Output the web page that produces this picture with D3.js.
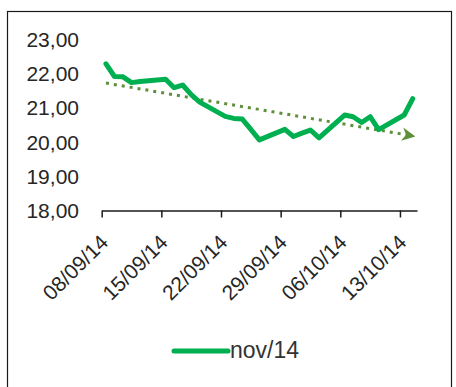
<!DOCTYPE html>
<html>
<head>
<meta charset="utf-8">
<script src="https://cdn.jsdelivr.net/npm/d3@7"></script>
<style>
body { margin: 0; background: #fff; }
svg { display: block; }
text { font-family: "Liberation Sans", Arial, sans-serif; }
</style>
</head>
<body>
<div id="chart-area"></div>
<script>
// dias úteis (sem fins de semana)
var dates = [
    "2014-09-08", "2014-09-09", "2014-09-10", "2014-09-11", "2014-09-12",
    "2014-09-15", "2014-09-16", "2014-09-17", "2014-09-18", "2014-09-19",
    "2014-09-22", "2014-09-23", "2014-09-24", "2014-09-25", "2014-09-26",
    "2014-09-29", "2014-09-30", "2014-10-01", "2014-10-02", "2014-10-03",
    "2014-10-06", "2014-10-07", "2014-10-08", "2014-10-09", "2014-10-10",
    "2014-10-13", "2014-10-14"
];
var values = [
    22.30, 21.93, 21.92, 21.75, 21.78,
    21.85, 21.60, 21.68, 21.40, 21.18,
    20.76, 20.70, 20.68, 20.38, 20.07,
    20.38, 20.17, 20.27, 20.36, 20.13,
    20.80, 20.75, 20.58, 20.75, 20.37,
    20.80, 21.28
];
var xTicks = ["2014-09-08", "2014-09-15", "2014-09-22", "2014-09-29", "2014-10-06", "2014-10-13"];
var yTicks = [18, 19, 20, 21, 22, 23];
var seriesName = "nov/14";

var parse = d3.utcParse("%Y-%m-%d");
var data = dates.map(function(d, i) {
    return { date: parse(d), value: values[i] };
});

var svg = d3.select("#chart-area").append("svg")
    .attr("width", 456)
    .attr("height", 387);

// moldura
svg.append("rect")
    .attr("x", 7.5).attr("y", 11.5)
    .attr("width", 444).attr("height", 390)
    .attr("fill", "none")
    .attr("stroke", "#1a1a1a")
    .attr("stroke-width", 1.2);

var x = d3.scaleUtc()
    .domain([parse("2014-09-08"), parse("2014-10-15")])
    .range([101.7, 417]);

var y = d3.scaleLinear()
    .domain([18, 23])
    .range([210.5, 40]);

var ptX = function(d) { return x(d3.utcHour.offset(d.date, 12)); };

var fmt = d3.formatLocale({ decimal: ",", thousands: ".", grouping: [3], currency: ["R$", ""] }).format(".2f");

// eixo y (só rótulos)
var yAxis = svg.append("g")
    .attr("transform", "translate(79,0)")
    .call(d3.axisLeft(y).tickValues(yTicks).tickSize(0).tickPadding(0).tickFormat(fmt));
yAxis.select(".domain").remove();
yAxis.selectAll("text")
    .attr("font-size", 21)
    .attr("font-family", "Liberation Sans, Arial, sans-serif")
    .attr("fill", "#262626");

// eixo x
var xAxis = svg.append("g")
    .attr("transform", "translate(0,210.5)")
    .call(d3.axisBottom(x)
        .tickValues(xTicks.map(parse))
        .tickSize(7)
        .tickSizeOuter(0)
        .tickFormat(d3.utcFormat("%d/%m/%y")));
xAxis.select(".domain").attr("stroke", "#1a1a1a").attr("stroke-width", 1.5);
xAxis.selectAll(".tick line").attr("stroke", "#1a1a1a").attr("stroke-width", 1.5);
xAxis.selectAll("text")
    .attr("y", 0)
    .attr("dy", "0.35em")
    .attr("text-anchor", "end")
    .attr("transform", "translate(2,28) rotate(-45)")
    .attr("font-size", 21)
    .attr("font-family", "Liberation Sans, Arial, sans-serif")
    .attr("fill", "#262626");

// linha de tendência (regressão linear)
var t0 = data[0].date;
var days = data.map(function(d) { return (d.date - t0) / 864e5; });
var mx = d3.mean(days), my = d3.mean(values);
var sxy = d3.sum(days, function(dx, i) { return (dx - mx) * (values[i] - my); });
var sxx = d3.sum(days, function(dx) { return (dx - mx) * (dx - mx); });
var slope = sxy / sxx;
var icpt = my - slope * mx;
var trend = [data[0], data[data.length - 1]].map(function(d) {
    var dx = (d.date - t0) / 864e5;
    return { date: d.date, value: icpt + slope * dx };
});

svg.append("defs").append("marker")
    .attr("id", "arrow")
    .attr("viewBox", "0 0 10 10")
    .attr("refX", 8).attr("refY", 5)
    .attr("markerWidth", 4.5).attr("markerHeight", 4.5)
    .attr("markerUnits", "strokeWidth")
    .attr("orient", "auto")
    .append("path")
    .attr("d", "M0,0 L10,5 L0,10 L3,5 Z")
    .attr("fill", "#5E8F3A");

var line = d3.line()
    .x(ptX)
    .y(function(d) { return y(d.value); });

svg.append("path")
    .datum(trend)
    .attr("d", line)
    .attr("fill", "none")
    .attr("stroke", "#5E8F3A")
    .attr("stroke-width", 3)
    .attr("stroke-dasharray", "3,5")
    .attr("marker-end", "url(#arrow)");

svg.append("path")
    .datum(data)
    .attr("d", line)
    .attr("fill", "none")
    .attr("stroke", "#00B050")
    .attr("stroke-width", 5)
    .attr("stroke-linejoin", "round")
    .attr("stroke-linecap", "round");

// legenda
var leg = svg.append("g");
leg.append("line")
    .attr("x1", 174).attr("x2", 228)
    .attr("y1", 351).attr("y2", 351)
    .attr("stroke", "#00B050")
    .attr("stroke-width", 5)
    .attr("stroke-linecap", "round");
leg.append("text")
    .attr("x", 230).attr("y", 358)
    .attr("font-size", 23)
    .attr("fill", "#333")
    .text(seriesName);
</script>
</body>
</html>
